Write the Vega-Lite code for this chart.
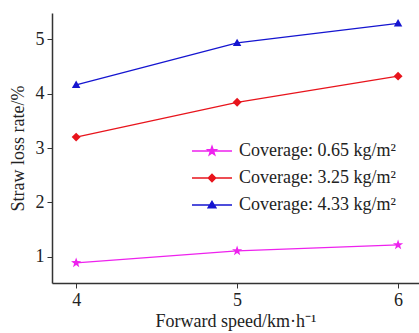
{
  "$schema": "https://vega.github.io/schema/vega-lite/v6.json",
  "width": 367,
  "height": 270,
  "autosize": {"type": "none"},
  "padding": {"left": 52, "top": 13, "right": 0, "bottom": 50},
  "background": "white",
  "config": {
    "view": {"stroke": null},
    "font": "Liberation Serif",
    "axis": {
      "grid": false,
      "domainColor": "#333",
      "tickColor": "#333",
      "labelColor": "#222",
      "titleColor": "#222",
      "labelFont": "Liberation Serif",
      "titleFont": "Liberation Serif",
      "labelFontSize": 18,
      "titleFontSize": 18,
      "titleFontWeight": "normal",
      "tickSize": 5,
      "domainWidth": 1.5
    }
  },
  "data": {
    "values": [
      {"speed": 4, "rate": 0.89, "series": "Coverage: 0.65 kg/m²"},
      {"speed": 5, "rate": 1.11, "series": "Coverage: 0.65 kg/m²"},
      {"speed": 6, "rate": 1.22, "series": "Coverage: 0.65 kg/m²"},
      {"speed": 4, "rate": 3.2, "series": "Coverage: 3.25 kg/m²"},
      {"speed": 5, "rate": 3.84, "series": "Coverage: 3.25 kg/m²"},
      {"speed": 6, "rate": 4.32, "series": "Coverage: 3.25 kg/m²"},
      {"speed": 4, "rate": 4.16, "series": "Coverage: 4.33 kg/m²"},
      {"speed": 5, "rate": 4.93, "series": "Coverage: 4.33 kg/m²"},
      {"speed": 6, "rate": 5.29, "series": "Coverage: 4.33 kg/m²"}
    ]
  },
  "encoding": {
    "x": {
      "field": "speed", "type": "quantitative",
      "scale": {"domain": [3.85, 6.13], "nice": false, "zero": false},
      "axis": {"values": [4, 5, 6], "title": "Forward speed/km·h⁻¹", "titlePadding": 3, "labelPadding": 3}
    },
    "y": {
      "field": "rate", "type": "quantitative",
      "scale": {"domain": [0.52, 5.48], "nice": false, "zero": false},
      "axis": {"values": [1, 2, 3, 4, 5], "title": "Straw loss rate/%", "titlePadding": 8, "labelPadding": 3}
    },
    "color": {
      "field": "series", "type": "nominal",
      "sort": ["Coverage: 0.65 kg/m²", "Coverage: 3.25 kg/m²", "Coverage: 4.33 kg/m²"],
      "scale": {"range": ["#ee22ee", "#e8141c", "#1515d0"]},
      "legend": {
        "orient": "none",
        "legendX": 151,
        "legendY": 129,
        "title": null,
        "labelFont": "Liberation Serif",
        "labelFontSize": 18,
        "labelColor": "#222",
        "labelOffset": 18,
        "rowPadding": 9,
        "symbolSize": 100,
        "symbolStrokeWidth": 1.2,
        "encoding": {
          "symbols": {
            "shape": {"value": {"expr": "datum.value === 'Coverage: 0.65 kg/m²' ? 'M-4,0H4M0,-0.95L0.224,-0.308L0.903,-0.294L0.36,0.118L0.558,0.769L0,0.38L-0.558,0.769L-0.36,0.118L-0.903,-0.294L-0.224,-0.308Z' : datum.value === 'Coverage: 3.25 kg/m²' ? 'M-4,0H4M0,-0.75L0.75,0L0,0.75L-0.75,0Z' : 'M-4,0H4M0,-0.75L0.8,0.55L-0.8,0.55Z'"}},
            "stroke": {"value": {"expr": "datum.value === 'Coverage: 0.65 kg/m²' ? '#ee22ee' : datum.value === 'Coverage: 3.25 kg/m²' ? '#e8141c' : '#1515d0'"}},
            "fill": {"value": {"expr": "datum.value === 'Coverage: 0.65 kg/m²' ? '#ee22ee' : datum.value === 'Coverage: 3.25 kg/m²' ? '#e8141c' : '#1515d0'"}},
            "strokeWidth": {"value": 1.3},
            "opacity": {"value": 1}
          }
        }
      }
    }
  },
  "layer": [
    {"mark": {"type": "line", "strokeWidth": 1.3}, "encoding": {}},
    {
      "mark": {"type": "point", "filled": true, "opacity": 1, "size": 80},
      "encoding": {
        "shape": {
          "field": "series", "type": "nominal",
          "sort": ["Coverage: 0.65 kg/m²", "Coverage: 3.25 kg/m²", "Coverage: 4.33 kg/m²"],
          "scale": {"range": [
            "M0,-1.2L0.282,-0.389L1.141,-0.371L0.456,0.149L0.706,0.971L0,0.48L-0.706,0.971L-0.456,0.149L-1.141,-0.371L-0.282,-0.389Z",
            "M0,-1L1,0L0,1L-1,0Z",
            "M0,-0.95L0.95,0.7L-0.95,0.7Z"
          ]},
          "legend": null
        }
      }
    }
  ]
}
